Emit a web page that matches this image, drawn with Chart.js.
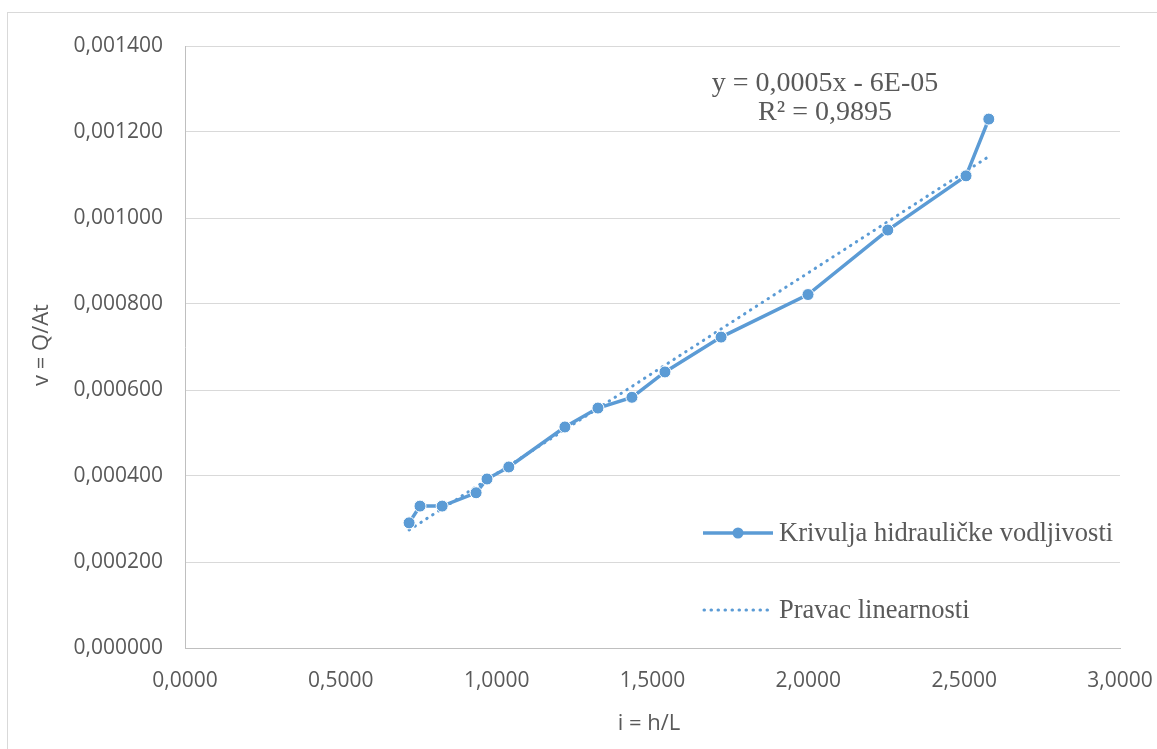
<!DOCTYPE html>
<html>
<head>
<meta charset="utf-8">
<script src="https://cdn.jsdelivr.net/npm/chart.js@4.4.1/dist/chart.umd.min.js"></script>
<style>
  html, body { margin: 0; padding: 0; background: #fff; overflow: hidden; }
  #wrap { position: relative; width: 1157px; height: 749px; }
  #frame { position: absolute; left: 7px; top: 12px; width: 1300px; height: 900px; border: 1px solid #D9D9D9; box-sizing: border-box; }
  canvas { position: absolute; left: 0; top: 0; }
</style>
</head>
<body>
<div id="wrap">
  <div id="frame"></div>
  <canvas id="chart" width="1157" height="749"></canvas>
</div>
<script>
// i = h/L
const gradients = [0.719, 0.754, 0.825, 0.934, 0.969, 1.039, 1.219, 1.325, 1.434, 1.540, 1.720, 1.999, 2.255, 2.506, 2.579];
// v = Q/At
const velocities = [0.000291, 0.000330, 0.000330, 0.000361, 0.000393, 0.000421, 0.000514, 0.000558, 0.000583, 0.000642, 0.000723, 0.000822, 0.000972, 0.001098, 0.001230];

const seriesName = 'Krivulja hidrauličke vodljivosti';
const trendName = 'Pravac linearnosti';
const equationLines = ['y = 0,0005x - 6E-05', 'R² = 0,9895'];
const xTitle = 'i = h/L';
const yTitle = 'v = Q/At';

const blue = '#5B9BD5';
const grey = '#595959';

// least squares fit through the measured points
function linearFit(xs, ys) {
  const n = xs.length;
  let sx = 0, sy = 0, sxy = 0, sxx = 0;
  for (let i = 0; i < n; i++) {
    sx += xs[i]; sy += ys[i]; sxy += xs[i] * ys[i]; sxx += xs[i] * xs[i];
  }
  const slope = (n * sxy - sx * sy) / (n * sxx - sx * sx);
  return { slope, intercept: (sy - slope * sx) / n };
}

const fit = linearFit(gradients, velocities);
const xMin = Math.min(...gradients);
const xMax = Math.max(...gradients);
const trendPoints = [xMin, xMax].map(x => ({ x, y: fit.slope * x + fit.intercept }));
const measuredPoints = gradients.map((x, i) => ({ x, y: velocities[i] }));

const decorations = {
  id: 'decorations',
  afterDraw(chart) {
    const ctx = chart.ctx;
    ctx.save();

    // axis titles
    ctx.fillStyle = grey;
    ctx.font = '22px "Open Sans"';
    ctx.textAlign = 'center';
    ctx.textBaseline = 'middle';
    ctx.fillText(xTitle, 649, 724);
    ctx.save();
    ctx.translate(42, 345);
    ctx.rotate(-Math.PI / 2);
    ctx.fillText(yTitle, 0, 0);
    ctx.restore();

    // trendline equation
    ctx.font = '28px "Liberation Serif"';
    ctx.fillStyle = grey;
    ctx.fillText(equationLines[0], 825, 84);
    ctx.fillText(equationLines[1], 825, 113);

    // legend
    ctx.textAlign = 'left';
    ctx.font = '26.5px "Liberation Serif"';
    ctx.strokeStyle = blue;
    ctx.lineWidth = 3.5;
    ctx.beginPath();
    ctx.moveTo(703, 533);
    ctx.lineTo(773, 533);
    ctx.stroke();
    ctx.fillStyle = blue;
    ctx.beginPath();
    ctx.arc(738, 533, 5.5, 0, Math.PI * 2);
    ctx.fill();
    ctx.fillStyle = grey;
    ctx.fillText(seriesName, 779, 534);

    ctx.lineWidth = 3;
    ctx.setLineDash([0.5, 6.5]);
    ctx.lineCap = 'round';
    ctx.beginPath();
    ctx.moveTo(704, 610);
    ctx.lineTo(773, 610);
    ctx.stroke();
    ctx.setLineDash([]);
    ctx.fillText(trendName, 779, 611);

    ctx.restore();
  }
};

new Chart(document.getElementById('chart'), {
  type: 'scatter',
  data: {
    datasets: [
      {
        label: trendName,
        data: trendPoints,
        showLine: true,
        borderColor: blue,
        borderWidth: 3,
        borderDash: [0.5, 6.5],
        borderCapStyle: 'round',
        pointRadius: 0,
        order: 2
      },
      {
        label: seriesName,
        data: measuredPoints,
        showLine: true,
        borderColor: blue,
        borderWidth: 3.5,
        backgroundColor: blue,
        pointBackgroundColor: blue,
        pointBorderColor: '#fff',
        pointBorderWidth: 1,
        pointRadius: 6,
        order: 1
      }
    ]
  },
  options: {
    responsive: false,
    animation: false,
    layout: { padding: { top: 46, right: 37, left: 0, bottom: 0 } },
    plugins: {
      legend: { display: false },
      tooltip: { enabled: false }
    },
    scales: {
      x: {
        type: 'linear',
        min: 0,
        max: 3,
        afterFit(scale) {
          scale.height = 101;
          scale.paddingLeft = 0;
          scale.paddingRight = 0;
        },
        afterBuildTicks(scale) {
          scale.ticks = [0, 0.5, 1, 1.5, 2, 2.5, 3].map(v => ({ value: v }));
        },
        grid: { display: false, drawTicks: false },
        border: { display: true, color: '#BFBFBF', width: 1 },
        ticks: {
          padding: 20,
          maxRotation: 0,
          color: grey,
          font: { family: 'Open Sans', size: 21 },
          callback: v => v.toFixed(4).replace('.', ',')
        }
      },
      y: {
        type: 'linear',
        min: 0,
        max: 0.0014,
        afterFit(scale) {
          scale.width = 185;
          scale.paddingTop = 0;
          scale.paddingBottom = 0;
        },
        afterBuildTicks(scale) {
          const t = [];
          for (let k = 0; k <= 7; k++) t.push({ value: k * 0.0002 });
          scale.ticks = t;
        },
        grid: { color: '#D9D9D9', lineWidth: 1, drawTicks: false },
        border: { display: true, color: '#BFBFBF', width: 1 },
        ticks: {
          padding: 22,
          color: grey,
          font: { family: 'Open Sans', size: 21 },
          callback: v => v.toFixed(6).replace('.', ',')
        }
      }
    }
  },
  plugins: [decorations]
});
</script>
</body>
</html>
